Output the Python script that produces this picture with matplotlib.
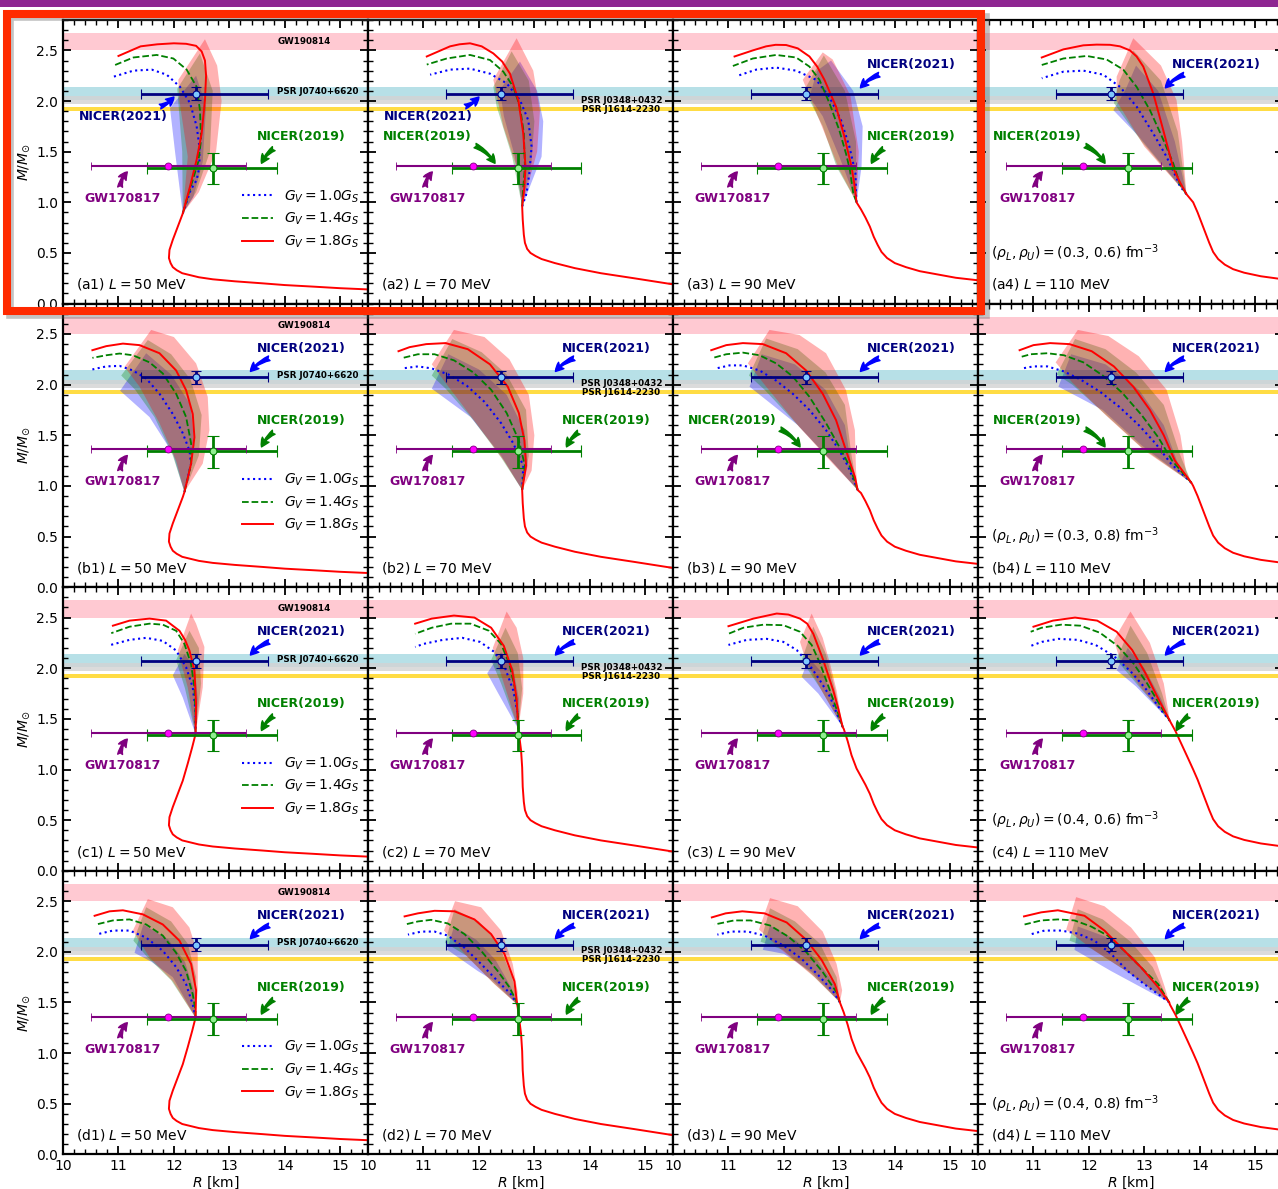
import matplotlib
matplotlib.use('Agg')
import matplotlib.pyplot as plt
from matplotlib.patches import Polygon, Rectangle
from matplotlib.ticker import MultipleLocator, FormatStrFormatter

plt.rcParams['font.family'] = ['DejaVu Sans']
plt.rcParams['mathtext.fontset'] = 'dejavusans'

# ---------------- data ----------------
ROW_KEYS = ['a', 'b', 'c', 'd']
L_VALUES = [50, 70, 90, 110]
RHO_LABELS = ['(0.3, 0.6)', '(0.3, 0.8)', '(0.4, 0.6)', '(0.4, 0.8)']
GV_LABELS = ['$G_V = 1.0G_S$', '$G_V = 1.4G_S$', '$G_V = 1.8G_S$']

# hadronic branches (per column L)
HAD_R_50 = [15.5, 15.0, 14.5, 14.0, 13.6, 13.1, 12.7, 12.45, 12.3, 12.15, 12.05, 11.98, 11.94, 11.91, 11.92, 11.98, 12.07, 12.16, 12.25, 12.33, 12.39, 12.42]
HAD_M_50 = [0.14, 0.152, 0.168, 0.183, 0.20, 0.22, 0.24, 0.26, 0.28, 0.30, 0.33, 0.36, 0.40, 0.45, 0.53, 0.63, 0.76, 0.89, 1.06, 1.22, 1.35, 1.48]
HAD_R_70 = [15.5, 14.8, 14.2, 13.73, 13.37, 13.13, 13.02, 12.93, 12.87, 12.83, 12.81, 12.79, 12.78, 12.76, 12.73, 12.70, 12.66]
HAD_M_70 = [0.19, 0.25, 0.30, 0.35, 0.40, 0.44, 0.47, 0.50, 0.54, 0.60, 0.68, 0.83, 1.02, 1.19, 1.32, 1.45, 1.55]
HAD_R_90 = [15.5, 15.1, 14.8, 14.45, 14.2, 14.0, 13.86, 13.76, 13.69, 13.62, 13.55, 13.47, 13.39, 13.31, 13.22, 13.15, 13.08, 12.98]
HAD_M_90 = [0.23, 0.255, 0.285, 0.32, 0.36, 0.40, 0.45, 0.51, 0.58, 0.66, 0.76, 0.85, 0.93, 1.01, 1.14, 1.28, 1.40, 1.55]
HAD_R_110 = [15.5, 15.1, 14.8, 14.6, 14.45, 14.33, 14.24, 14.17, 14.10, 14.03, 13.96, 13.88, 13.78, 13.67, 13.56, 13.46, 13.40]
HAD_M_110 = [0.24, 0.27, 0.305, 0.34, 0.385, 0.44, 0.51, 0.60, 0.70, 0.80, 0.90, 1.0, 1.12, 1.25, 1.38, 1.48, 1.55]

# observational constraints
GW190814_M = (2.50, 2.67)
J0740_M = (2.01, 2.14)
J0348_M = (1.97, 2.05)
J1614_M = (1.905, 1.945)
NICER21 = (12.39, 2.072, 0.98, 1.30, 0.066, 0.067)   # R, M, R-, R+, M-, M+
NICER19 = (12.71, 1.34, 1.19, 1.14, 0.16, 0.15)
GW170817 = (11.9, 1.36, 1.4, 1.4)

# panel a1
A1_TIP = (12.16, 0.89)
A1_RED = [(12.29, 1.155), (12.41, 1.42), (12.50, 1.68), (12.56, 2.01), (12.58, 2.25), (12.56, 2.40), (12.50, 2.49), (12.40, 2.545), (12.22, 2.565), (12.0, 2.57), (11.7, 2.56), (11.4, 2.54), (11.0, 2.445)]
A1_GREEN = [(12.30, 1.15), (12.44, 1.40), (12.49, 1.62), (12.47, 1.91), (12.41, 2.14), (12.23, 2.31), (11.99, 2.42), (11.69, 2.455), (11.27, 2.43), (10.94, 2.356)]
A1_BLUE = [(12.30, 1.12), (12.41, 1.22), (12.46, 1.35), (12.46, 1.55), (12.41, 1.75), (12.29, 1.98), (12.11, 2.14), (11.87, 2.26), (11.60, 2.31), (11.27, 2.30), (10.91, 2.24)]
A1_BAND_R = [(12.25, 1.45), (12.10, 2.0), (12.08, 2.21), (12.56, 2.61), (12.78, 2.35), (12.86, 2.0), (12.76, 1.5), (12.45, 1.1)]
A1_BAND_G = [(12.15, 1.5), (12.06, 2.12), (12.47, 2.47), (12.70, 2.1), (12.65, 1.5), (12.40, 1.1)]
A1_BAND_B = [(12.02, 1.5), (11.93, 1.93), (12.40, 2.25), (12.58, 1.95), (12.52, 1.4), (12.35, 1.05)]
# panel a2
A2_TIP = (12.78, 0.96)
A2_RED = [(12.82, 1.15), (12.84, 1.35), (12.80, 1.68), (12.71, 2.01), (12.56, 2.27), (12.42, 2.39), (12.26, 2.47), (12.05, 2.54), (11.84, 2.57), (11.65, 2.56), (11.48, 2.54), (11.06, 2.44)]
A2_GREEN = [(12.80, 1.15), (12.83, 1.35), (12.81, 1.68), (12.74, 1.945), (12.62, 2.14), (12.44, 2.29), (12.20, 2.405), (11.84, 2.455), (11.42, 2.42), (11.06, 2.36)]
A2_BLUE = [(12.86, 1.09), (12.91, 1.29), (12.95, 1.55), (12.89, 1.81), (12.74, 2.01), (12.50, 2.175), (12.20, 2.27), (11.84, 2.32), (11.48, 2.31), (11.12, 2.26)]
A2_BAND_R = [(12.68, 1.35), (12.44, 1.75), (12.26, 2.21), (12.68, 2.62), (12.98, 2.30), (13.10, 1.9), (13.05, 1.5)]
A2_BAND_G = [(12.60, 1.45), (12.32, 1.945), (12.26, 2.14), (12.59, 2.49), (12.90, 2.2), (13.0, 1.8), (12.95, 1.4)]
A2_BAND_B = [(12.65, 1.45), (12.45, 1.85), (12.38, 2.11), (12.74, 2.39), (13.05, 2.1), (13.16, 1.8), (13.13, 1.45)]
# panel a3
A3_TIP = (13.31, 1.00)
A3_RED = [(13.27, 1.18), (13.22, 1.35), (13.09, 1.65), (12.94, 1.945), (12.73, 2.21), (12.60, 2.34), (12.46, 2.44), (12.25, 2.52), (12.04, 2.553), (11.85, 2.555), (11.68, 2.54), (11.44, 2.50), (11.11, 2.44)]
A3_GREEN = [(13.25, 1.09), (13.19, 1.32), (13.12, 1.48), (13.0, 1.71), (12.82, 1.98), (12.64, 2.21), (12.46, 2.34), (12.22, 2.43), (11.86, 2.455), (11.44, 2.42), (11.08, 2.346)]
A3_BLUE = [(13.30, 1.09), (13.29, 1.29), (13.18, 1.55), (13.03, 1.81), (12.82, 2.04), (12.58, 2.21), (12.22, 2.30), (11.86, 2.33), (11.50, 2.31), (11.17, 2.25)]
A3_BAND_R = [(13.0, 1.32), (12.64, 1.81), (12.34, 2.21), (12.70, 2.48), (12.88, 2.41), (13.20, 2.05), (13.35, 1.5)]
A3_BAND_G = [(12.95, 1.35), (12.70, 1.75), (12.37, 2.11), (12.72, 2.45), (13.10, 2.1), (13.30, 1.6)]
A3_BAND_B = [(13.0, 1.45), (12.7, 1.85), (12.46, 2.04), (12.60, 2.30), (12.85, 2.40), (13.25, 2.1), (13.42, 1.75), (13.40, 1.35)]
# panel a4
A4_TIP = (13.76, 1.08)
A4_RED = [(13.64, 1.20), (13.52, 1.34), (13.34, 1.714), (13.16, 2.076), (12.98, 2.34), (12.86, 2.44), (12.74, 2.50), (12.56, 2.54), (12.38, 2.555), (12.14, 2.557), (11.90, 2.55), (11.54, 2.51), (11.15, 2.43)]
A4_GREEN = [(13.64, 1.18), (13.52, 1.385), (13.34, 1.62), (13.10, 1.91), (12.86, 2.14), (12.62, 2.31), (12.32, 2.41), (11.96, 2.445), (11.54, 2.42), (11.15, 2.356)]
A4_BLUE = [(13.64, 1.16), (13.58, 1.24), (13.40, 1.45), (13.16, 1.68), (12.86, 1.945), (12.56, 2.14), (12.26, 2.26), (11.90, 2.30), (11.54, 2.29), (11.15, 2.225)]
A4_BAND_R = [(13.0, 1.55), (12.50, 2.0), (12.50, 2.24), (12.80, 2.62), (13.30, 2.35), (13.58, 2.01), (13.68, 1.6)]
A4_BAND_G = [(12.95, 1.6), (12.45, 1.98), (12.55, 2.2), (12.80, 2.5), (13.30, 2.2), (13.60, 1.7)]
A4_BAND_B = [(12.90, 1.65), (12.44, 1.91), (12.65, 2.1), (12.85, 2.35), (13.25, 2.1), (13.55, 1.6)]
# panel b1
B1_TIP = (12.19, 0.94)
B1_RED = [(12.31, 1.22), (12.37, 1.48), (12.34, 1.71), (12.22, 1.945), (12.04, 2.14), (11.74, 2.31), (11.38, 2.39), (11.08, 2.405), (10.78, 2.38), (10.53, 2.34)]
B1_GREEN = [(12.31, 1.22), (12.31, 1.42), (12.22, 1.68), (12.04, 1.91), (11.80, 2.11), (11.56, 2.22), (11.26, 2.29), (11.02, 2.307), (10.78, 2.29), (10.53, 2.264)]
B1_BLUE = [(12.31, 1.22), (12.28, 1.35), (12.16, 1.52), (11.98, 1.71), (11.74, 1.91), (11.50, 2.06), (11.26, 2.14), (11.02, 2.185), (10.78, 2.18), (10.53, 2.15)]
B1_BAND_R = [(12.04, 1.25), (11.74, 1.62), (11.38, 1.98), (11.11, 2.175), (11.59, 2.54), (12.0, 2.47), (12.40, 2.21), (12.61, 1.88), (12.64, 1.55), (12.52, 1.22)]
B1_BAND_G = [(11.98, 1.3), (11.65, 1.68), (11.30, 1.95), (11.05, 2.09), (11.53, 2.44), (11.95, 2.3), (12.30, 2.05), (12.50, 1.7), (12.45, 1.3)]
B1_BAND_B = [(11.98, 1.32), (11.56, 1.68), (11.03, 1.94), (11.50, 2.31), (11.95, 2.1), (12.30, 1.8), (12.37, 1.4)]
# panel b2
B2_TIP = (12.78, 0.96)
B2_RED = [(12.85, 1.2), (12.82, 1.45), (12.72, 1.72), (12.52, 1.98), (12.20, 2.2), (11.80, 2.35), (11.40, 2.41), (11.05, 2.40), (10.75, 2.37), (10.55, 2.33)]
B2_GREEN = [(12.83, 1.2), (12.72, 1.45), (12.50, 1.72), (12.22, 1.95), (11.90, 2.12), (11.55, 2.24), (11.20, 2.30), (10.90, 2.30), (10.60, 2.26)]
B2_BLUE = [(12.80, 1.2), (12.62, 1.42), (12.40, 1.62), (12.10, 1.83), (11.78, 1.99), (11.45, 2.1), (11.15, 2.16), (10.90, 2.18), (10.62, 2.16)]
B2_BAND_R = [(12.45, 1.25), (11.95, 1.62), (11.45, 1.98), (11.15, 2.2), (11.55, 2.54), (12.10, 2.47), (12.55, 2.25), (12.90, 1.9), (13.0, 1.5), (12.95, 1.15)]
B2_BAND_G = [(12.40, 1.28), (11.90, 1.65), (11.40, 1.96), (11.15, 2.09), (11.52, 2.45), (12.05, 2.32), (12.50, 2.1), (12.85, 1.75), (12.90, 1.3)]
B2_BAND_B = [(12.40, 1.3), (11.85, 1.68), (11.15, 1.96), (11.45, 2.30), (12.0, 2.15), (12.50, 1.9), (12.82, 1.55), (12.88, 1.2)]
# panel b3
B3_TIP = (13.33, 0.96)
B3_RED = [(13.28, 1.09), (13.12, 1.35), (12.94, 1.65), (12.70, 1.91), (12.40, 2.14), (12.04, 2.31), (11.62, 2.40), (11.26, 2.41), (10.96, 2.39), (10.69, 2.34)]
B3_GREEN = [(13.19, 1.19), (13.0, 1.385), (12.76, 1.62), (12.46, 1.88), (12.16, 2.08), (11.86, 2.21), (11.56, 2.29), (11.26, 2.316), (10.96, 2.30), (10.72, 2.264)]
B3_BLUE = [(13.16, 1.19), (13.0, 1.35), (12.76, 1.55), (12.46, 1.75), (12.16, 1.91), (11.86, 2.04), (11.56, 2.14), (11.26, 2.19), (11.02, 2.19), (10.78, 2.16)]
B3_BAND_R = [(12.88, 1.22), (12.28, 1.58), (11.68, 1.98), (11.35, 2.21), (11.74, 2.54), (12.28, 2.49), (12.76, 2.31), (13.12, 1.945), (13.28, 1.55), (13.30, 1.16)]
B3_BAND_G = [(12.85, 1.25), (12.25, 1.6), (11.65, 1.95), (11.37, 2.09), (11.68, 2.455), (12.25, 2.35), (12.75, 2.12), (13.1, 1.8), (13.22, 1.3)]
B3_BAND_B = [(12.85, 1.25), (12.25, 1.6), (11.38, 1.98), (11.60, 2.30), (12.2, 2.2), (12.75, 1.95), (13.1, 1.6), (13.2, 1.25)]
# panel b4
B4_TIP = (13.85, 1.03)
B4_RED = [(13.55, 1.25), (13.35, 1.5), (13.10, 1.75), (12.80, 1.98), (12.45, 2.18), (12.05, 2.33), (11.65, 2.40), (11.30, 2.41), (11.0, 2.39), (10.75, 2.34)]
B4_GREEN = [(13.50, 1.25), (13.25, 1.48), (12.95, 1.70), (12.60, 1.92), (12.25, 2.09), (11.90, 2.22), (11.55, 2.29), (11.25, 2.31), (10.95, 2.30), (10.75, 2.27)]
B4_BLUE = [(13.48, 1.22), (13.20, 1.42), (12.90, 1.60), (12.55, 1.78), (12.20, 1.93), (11.85, 2.05), (11.55, 2.13), (11.25, 2.18), (11.0, 2.18), (10.8, 2.16)]
B4_BAND_R = [(13.0, 1.35), (12.30, 1.70), (11.70, 2.02), (11.40, 2.22), (11.80, 2.54), (12.35, 2.48), (12.90, 2.28), (13.40, 1.95), (13.65, 1.5), (13.75, 1.15)]
B4_BAND_G = [(12.95, 1.38), (12.25, 1.73), (11.70, 2.0), (11.42, 2.10), (11.75, 2.45), (12.3, 2.35), (12.85, 2.12), (13.35, 1.8), (13.65, 1.3)]
B4_BAND_B = [(12.95, 1.4), (12.25, 1.75), (11.45, 1.98), (11.68, 2.30), (12.3, 2.2), (12.9, 1.95), (13.35, 1.6), (13.62, 1.2)]
# panel c1
C1_TIP = (12.39, 1.35)
C1_RED = [(12.40, 1.65), (12.37, 1.98), (12.28, 2.175), (12.20, 2.28), (12.10, 2.37), (11.86, 2.47), (11.56, 2.49), (11.20, 2.47), (10.90, 2.42)]
C1_GREEN = [(12.39, 1.55), (12.37, 1.81), (12.31, 2.04), (12.19, 2.24), (12.04, 2.37), (11.80, 2.43), (11.56, 2.44), (11.20, 2.41), (10.87, 2.346)]
C1_BLUE = [(12.39, 1.58), (12.34, 1.81), (12.22, 2.01), (12.04, 2.175), (11.80, 2.27), (11.50, 2.30), (11.20, 2.28), (10.86, 2.23)]
C1_BAND_R = [(12.25, 1.81), (12.07, 2.175), (12.31, 2.54), (12.40, 2.44), (12.55, 2.21), (12.52, 1.81)]
C1_BAND_G = [(12.20, 1.80), (12.04, 2.08), (12.28, 2.37), (12.45, 2.2), (12.49, 1.85)]
C1_BAND_B = [(12.16, 1.71), (11.98, 1.93), (12.19, 2.14), (12.38, 2.0), (12.43, 1.7)]
# panel c2
C2_TIP = (12.71, 1.40)
C2_RED = [(12.68, 1.7), (12.60, 1.98), (12.45, 2.22), (12.22, 2.40), (11.92, 2.50), (11.55, 2.52), (11.15, 2.49), (10.85, 2.44)]
C2_GREEN = [(12.70, 1.55), (12.65, 1.8), (12.55, 2.04), (12.40, 2.24), (12.18, 2.37), (11.85, 2.44), (11.50, 2.44), (11.15, 2.40), (10.85, 2.34)]
C2_BLUE = [(12.70, 1.55), (12.62, 1.78), (12.48, 1.99), (12.28, 2.16), (12.02, 2.26), (11.70, 2.30), (11.35, 2.28), (11.0, 2.24), (10.85, 2.21)]
C2_BAND_R = [(12.45, 1.85), (12.25, 2.2), (12.50, 2.56), (12.68, 2.4), (12.80, 2.1), (12.80, 1.75)]
C2_BAND_G = [(12.40, 1.85), (12.22, 2.08), (12.48, 2.4), (12.70, 2.15), (12.78, 1.8)]
C2_BAND_B = [(12.35, 1.75), (12.15, 1.95), (12.40, 2.16), (12.62, 2.0), (12.72, 1.7)]
# panel c3
C3_TIP = (13.06, 1.42)
C3_RED = [(12.98, 1.60), (12.89, 1.78), (12.71, 2.08), (12.53, 2.34), (12.42, 2.44), (12.29, 2.49), (12.08, 2.53), (11.87, 2.54), (11.45, 2.49), (11.0, 2.415)]
C3_GREEN = [(12.98, 1.55), (12.83, 1.78), (12.65, 2.05), (12.50, 2.23), (12.29, 2.36), (11.99, 2.425), (11.63, 2.43), (11.27, 2.40), (11.0, 2.34)]
C3_BLUE = [(12.98, 1.52), (12.83, 1.72), (12.65, 1.88), (12.44, 2.05), (12.23, 2.18), (11.99, 2.26), (11.69, 2.29), (11.33, 2.28), (11.0, 2.23)]
C3_BAND_R = [(12.71, 1.75), (12.41, 2.05), (12.29, 2.26), (12.50, 2.54), (12.70, 2.3), (12.83, 2.05), (12.95, 1.78)]
C3_BAND_G = [(12.68, 1.78), (12.32, 2.08), (12.53, 2.41), (12.75, 2.15), (12.92, 1.8)]
C3_BAND_B = [(12.62, 1.75), (12.32, 1.915), (12.45, 2.1), (12.70, 1.95), (12.90, 1.7)]
# panel c4
C4_TIP = (13.46, 1.48)
C4_RED = [(13.25, 1.70), (13.02, 1.95), (12.78, 2.18), (12.50, 2.36), (12.15, 2.47), (11.75, 2.50), (11.35, 2.47), (11.0, 2.41)]
C4_GREEN = [(13.30, 1.62), (13.05, 1.85), (12.80, 2.05), (12.52, 2.22), (12.20, 2.35), (11.85, 2.42), (11.50, 2.43), (11.15, 2.40), (10.95, 2.36)]
C4_BLUE = [(13.28, 1.60), (13.02, 1.80), (12.75, 1.97), (12.45, 2.12), (12.12, 2.23), (11.80, 2.28), (11.45, 2.29), (11.15, 2.26), (10.95, 2.22)]
C4_BAND_R = [(12.95, 1.8), (12.55, 2.1), (12.45, 2.28), (12.75, 2.56), (13.10, 2.25), (13.35, 1.85)]
C4_BAND_G = [(12.90, 1.82), (12.50, 2.08), (12.75, 2.42), (13.05, 2.15), (13.32, 1.75)]
C4_BAND_B = [(12.85, 1.82), (12.50, 1.98), (12.70, 2.2), (13.0, 2.0), (13.30, 1.7)]
# panel d1
D1_TIP = (12.39, 1.35)
D1_RED = [(12.40, 1.62), (12.31, 1.88), (12.10, 2.11), (11.80, 2.27), (11.44, 2.37), (11.08, 2.41), (10.84, 2.40), (10.57, 2.356)]
D1_GREEN = [(12.39, 1.42), (12.34, 1.58), (12.22, 1.81), (12.04, 1.99), (11.80, 2.16), (11.50, 2.27), (11.20, 2.32), (10.90, 2.31), (10.60, 2.27)]
D1_BLUE = [(12.34, 1.48), (12.22, 1.68), (12.04, 1.85), (11.80, 2.01), (11.50, 2.14), (11.20, 2.21), (10.90, 2.21), (10.63, 2.175)]
D1_BAND_R = [(11.98, 1.71), (11.56, 1.945), (11.26, 2.21), (11.53, 2.52), (11.98, 2.44), (12.28, 2.24), (12.43, 1.98), (12.43, 1.62)]
D1_BAND_G = [(11.95, 1.72), (11.50, 1.96), (11.27, 2.11), (11.50, 2.44), (11.95, 2.3), (12.25, 2.08), (12.40, 1.75)]
D1_BAND_B = [(11.98, 1.75), (11.60, 1.90), (11.29, 1.99), (11.45, 2.27), (11.90, 2.12), (12.20, 1.9), (12.37, 1.6)]
# panel d2
D2_TIP = (12.69, 1.48)
D2_RED = [(12.64, 1.71), (12.46, 1.98), (12.22, 2.175), (11.92, 2.32), (11.56, 2.40), (11.20, 2.405), (10.90, 2.38), (10.66, 2.35)]
D2_GREEN = [(12.67, 1.52), (12.55, 1.65), (12.34, 1.81), (12.04, 2.01), (11.74, 2.175), (11.44, 2.28), (11.14, 2.316), (10.90, 2.30), (10.67, 2.27)]
D2_BLUE = [(12.58, 1.58), (12.34, 1.71), (12.04, 1.88), (11.74, 2.04), (11.44, 2.16), (11.20, 2.20), (10.96, 2.20), (10.72, 2.17)]
D2_BAND_R = [(12.28, 1.68), (11.80, 1.945), (11.37, 2.21), (11.57, 2.50), (12.04, 2.44), (12.40, 2.21), (12.61, 1.88), (12.70, 1.6)]
D2_BAND_G = [(12.25, 1.70), (11.78, 1.96), (11.39, 2.09), (11.56, 2.42), (12.0, 2.3), (12.35, 2.08), (12.60, 1.75)]
D2_BAND_B = [(12.25, 1.72), (11.98, 1.81), (11.43, 2.02), (11.55, 2.25), (11.95, 2.12), (12.30, 1.92), (12.58, 1.65)]
# panel d3
D3_TIP = (13.01, 1.50)
D3_RED = [(12.92, 1.68), (12.68, 1.92), (12.40, 2.12), (12.05, 2.29), (11.65, 2.38), (11.25, 2.40), (10.95, 2.38), (10.70, 2.34)]
D3_GREEN = [(12.95, 1.6), (12.70, 1.8), (12.40, 2.0), (12.08, 2.15), (11.75, 2.26), (11.40, 2.31), (11.10, 2.31), (10.75, 2.27)]
D3_BLUE = [(12.90, 1.6), (12.62, 1.77), (12.32, 1.93), (12.0, 2.06), (11.65, 2.16), (11.35, 2.20), (11.05, 2.20), (10.80, 2.17)]
D3_BAND_R = [(12.55, 1.75), (12.0, 2.0), (11.55, 2.22), (11.75, 2.53), (12.25, 2.45), (12.70, 2.2), (12.95, 1.88), (13.05, 1.62)]
D3_BAND_G = [(12.50, 1.78), (11.98, 2.02), (11.58, 2.10), (11.75, 2.43), (12.2, 2.3), (12.65, 2.08), (12.95, 1.75)]
D3_BAND_B = [(12.50, 1.80), (12.0, 1.98), (11.62, 2.02), (11.75, 2.26), (12.2, 2.12), (12.6, 1.92), (12.95, 1.65)]
# panel d4
D4_TIP = (13.45, 1.50)
D4_RED = [(13.25, 1.65), (12.94, 1.846), (12.64, 2.01), (12.28, 2.21), (11.92, 2.356), (11.44, 2.41), (11.14, 2.39), (10.83, 2.35)]
D4_GREEN = [(13.25, 1.68), (12.94, 1.846), (12.64, 2.01), (12.34, 2.16), (12.04, 2.25), (11.74, 2.31), (11.44, 2.32), (11.14, 2.31), (10.84, 2.27)]
D4_BLUE = [(13.28, 1.57), (13.0, 1.68), (12.70, 1.81), (12.40, 1.98), (12.10, 2.11), (11.80, 2.18), (11.50, 2.21), (11.20, 2.21), (10.93, 2.17)]
D4_BAND_R = [(12.76, 1.78), (12.10, 2.01), (11.59, 2.22), (11.77, 2.54), (12.28, 2.45), (12.76, 2.24), (13.19, 1.945), (13.37, 1.65)]
D4_BAND_G = [(12.70, 1.80), (12.05, 2.03), (11.65, 2.11), (11.80, 2.42), (12.25, 2.32), (12.75, 2.1), (13.15, 1.85)]
D4_BAND_B = [(12.40, 1.81), (11.74, 2.02), (11.80, 2.25), (12.3, 2.15), (12.8, 1.95), (13.2, 1.7)]

# annotation placement per panel (row-major)
N21_SIDE = [['left', 'left', 'right', 'right'], ['right'] * 4, ['right'] * 4, ['right'] * 4]
N19_SIDE = [['right', 'left', 'right', 'left'], ['right', 'right', 'left', 'left'], ['right'] * 4, ['right'] * 4]

# ---------------- assemble tables ----------------
HAD = [(HAD_R_50, HAD_M_50), (HAD_R_70, HAD_M_70), (HAD_R_90, HAD_M_90), (HAD_R_110, HAD_M_110)]
PANELS = {
    'a1': (A1_TIP, A1_RED, A1_GREEN, A1_BLUE, A1_BAND_R, A1_BAND_G, A1_BAND_B),
    'a2': (A2_TIP, A2_RED, A2_GREEN, A2_BLUE, A2_BAND_R, A2_BAND_G, A2_BAND_B),
    'a3': (A3_TIP, A3_RED, A3_GREEN, A3_BLUE, A3_BAND_R, A3_BAND_G, A3_BAND_B),
    'a4': (A4_TIP, A4_RED, A4_GREEN, A4_BLUE, A4_BAND_R, A4_BAND_G, A4_BAND_B),
    'b1': (B1_TIP, B1_RED, B1_GREEN, B1_BLUE, B1_BAND_R, B1_BAND_G, B1_BAND_B),
    'b2': (B2_TIP, B2_RED, B2_GREEN, B2_BLUE, B2_BAND_R, B2_BAND_G, B2_BAND_B),
    'b3': (B3_TIP, B3_RED, B3_GREEN, B3_BLUE, B3_BAND_R, B3_BAND_G, B3_BAND_B),
    'b4': (B4_TIP, B4_RED, B4_GREEN, B4_BLUE, B4_BAND_R, B4_BAND_G, B4_BAND_B),
    'c1': (C1_TIP, C1_RED, C1_GREEN, C1_BLUE, C1_BAND_R, C1_BAND_G, C1_BAND_B),
    'c2': (C2_TIP, C2_RED, C2_GREEN, C2_BLUE, C2_BAND_R, C2_BAND_G, C2_BAND_B),
    'c3': (C3_TIP, C3_RED, C3_GREEN, C3_BLUE, C3_BAND_R, C3_BAND_G, C3_BAND_B),
    'c4': (C4_TIP, C4_RED, C4_GREEN, C4_BLUE, C4_BAND_R, C4_BAND_G, C4_BAND_B),
    'd1': (D1_TIP, D1_RED, D1_GREEN, D1_BLUE, D1_BAND_R, D1_BAND_G, D1_BAND_B),
    'd2': (D2_TIP, D2_RED, D2_GREEN, D2_BLUE, D2_BAND_R, D2_BAND_G, D2_BAND_B),
    'd3': (D3_TIP, D3_RED, D3_GREEN, D3_BLUE, D3_BAND_R, D3_BAND_G, D3_BAND_B),
    'd4': (D4_TIP, D4_RED, D4_GREEN, D4_BLUE, D4_BAND_R, D4_BAND_G, D4_BAND_B),
}

# ---------------- figure ----------------
W, H = 1278, 1189
fig = plt.figure(figsize=(W / 100, H / 100), dpi=100)
X0, Y0, PW, PH = 63, 20, 305, 283.6

C_NAVY = '#00007f'
C_GREEN = '#008000'
C_PURPLE = '#800080'


def xy(pts):
    return [p[0] for p in pts], [p[1] for p in pts]


for r in range(4):
    for c in range(4):
        key = f'{ROW_KEYS[r]}{c + 1}'
        ax = fig.add_axes([(X0 + PW * c) / W, 1 - (Y0 + PH * (r + 1)) / H, PW / W, PH / H])
        ax.set_xlim(10, 15.5)
        ax.set_ylim(0, 2.8)
        tip, red, green, blue, b_r, b_g, b_b = PANELS[key]
        hr, hm = HAD[c]

        # horizontal constraint bands
        ax.axhspan(*GW190814_M, color='pink', alpha=0.85, lw=0, zorder=0)
        ax.axhspan(*J0740_M, color='#b0dde5', alpha=0.9, lw=0, zorder=0)
        ax.axhspan(*J0348_M, color='#d3d3d3', alpha=0.8, lw=0, zorder=0)
        ax.axhspan(*J1614_M, color='#ffd92f', alpha=0.9, lw=0, zorder=0)

        # uncertainty regions
        for band, col in [(b_b, 'blue'), (b_g, 'green'), (b_r, 'red')]:
            ax.add_patch(Polygon([tip] + band, closed=True, fc=col, alpha=0.3, lw=0, zorder=1))

        # curves
        rr = [R for R, M in zip(hr, hm) if M < tip[1]] + [tip[0]] + xy(red)[0]
        mm = [M for M in hm if M < tip[1]] + [tip[1]] + xy(red)[1]
        gx, gy = xy([tip] + green)
        bx, by = xy([tip] + blue)
        lb, = ax.plot(bx, by, color='blue', ls=':', lw=1.5, zorder=3)
        lg, = ax.plot(gx, gy, color='green', ls='--', lw=1.3, zorder=3)
        lr, = ax.plot(rr, mm, color='red', ls='-', lw=1.4, zorder=3, solid_joinstyle='round')

        # measurements
        R, M, rm, rp, mmn, mpl = NICER21
        ax.errorbar(R, M, xerr=[[rm], [rp]], yerr=[[mmn], [mpl]], fmt='o', color=C_NAVY, ms=5,
                    mfc='#7ec8ff', mec=C_NAVY, mew=0.8, elinewidth=2, capsize=3.5, capthick=2, zorder=4)
        R, M, rm, rp, mmn, mpl = NICER19
        ax.errorbar(R, M, xerr=[[rm], [rp]], yerr=[[mmn], [mpl]], fmt='o', color=C_GREEN, ms=5,
                    mfc='#90ee90', mec=C_GREEN, mew=0.8, elinewidth=2, capsize=4, capthick=2, zorder=4)
        R, M, rm, rp = GW170817
        ax.errorbar(R, M, xerr=[[rm], [rp]], fmt='o', color=C_PURPLE, ms=5, mfc='magenta',
                    mec=C_PURPLE, mew=0.6, elinewidth=1.5, capsize=3, capthick=1.5, zorder=4)

        # annotations
        arr = 'fancy,head_length=0.6,head_width=0.6,tail_width=0.35'
        if N21_SIDE[r][c] == 'right':
            tpos, tail, head, rad = (14.30, 2.36), (13.72, 2.26), (13.38, 2.13), 0.15
        else:
            tpos, tail, head, rad = (11.09, 1.846), (11.75, 1.945), (12.0, 2.04), 0.15
        ax.text(*tpos, 'NICER(2021)', color=C_NAVY, fontsize=9, fontweight='bold', ha='center', va='center', zorder=6)
        ax.annotate('', xy=head, xytext=tail, zorder=6,
                    arrowprops=dict(arrowstyle=arr, color='blue', connectionstyle=f'arc3,rad={rad}', shrinkA=0, shrinkB=0))
        if N19_SIDE[r][c] == 'right':
            tpos, tail, head, rad = (14.30, 1.65), (13.80, 1.53), (13.58, 1.385), 0.15
        else:
            tpos, tail, head, rad = (11.06, 1.65), (11.93, 1.56), (12.29, 1.385), -0.15
        ax.text(*tpos, 'NICER(2019)', color=C_GREEN, fontsize=9, fontweight='bold', ha='center', va='center', zorder=6)
        ax.annotate('', xy=head, xytext=tail, zorder=6,
                    arrowprops=dict(arrowstyle=arr, color=C_GREEN, connectionstyle=f'arc3,rad={rad}', shrinkA=0, shrinkB=0))
        ax.text(11.08, 1.04, 'GW170817', color=C_PURPLE, fontsize=9, fontweight='bold', ha='center', va='center', zorder=6)
        ax.annotate('', xy=(11.16, 1.30), xytext=(11.03, 1.15), zorder=6,
                    arrowprops=dict(arrowstyle=arr, color=C_PURPLE, connectionstyle='arc3,rad=-0.2', shrinkA=0, shrinkB=0))

        # small labels for constraint bands
        if c == 0:
            ax.text(14.35, 2.585, 'GW190814', fontsize=6.3, fontweight='bold', ha='center', va='center', zorder=6)
            ax.text(14.60, 2.09, 'PSR J0740+6620', fontsize=6.3, fontweight='bold', ha='center', va='center', zorder=6)
            ax.legend([lb, lg, lr], GV_LABELS, loc='lower right', bbox_to_anchor=(1.0, 0.16), frameon=False,
                      fontsize=10, handlelength=2.2, labelspacing=0.45, borderaxespad=0.2)
        if c == 1:
            ax.text(14.57, 2.01, 'PSR J0348+0432', fontsize=6.3, fontweight='bold', ha='center', va='center', zorder=6)
            ax.text(14.57, 1.92, 'PSR J1614-2230', fontsize=6.3, fontweight='bold', ha='center', va='center', zorder=6)

        ax.text(10.24, 0.19, f'({key}) $L = {L_VALUES[c]}$ MeV', fontsize=10, ha='left', va='center', zorder=6)
        if c == 3:
            ax.text(10.24, 0.50, r'$(\rho_L, \rho_U) = $' + RHO_LABELS[r] + r' fm$^{-3}$', fontsize=10,
                    ha='left', va='center', zorder=6)

        # axes styling
        ax.xaxis.set_major_locator(MultipleLocator(1))
        ax.xaxis.set_minor_locator(MultipleLocator(0.2))
        ax.yaxis.set_major_locator(MultipleLocator(0.5))
        ax.yaxis.set_minor_locator(MultipleLocator(0.1))
        ax.yaxis.set_major_formatter(FormatStrFormatter('%.1f'))
        ax.tick_params(which='both', direction='in', top=True, right=True, labelsize=10)
        ax.tick_params(which='major', length=6, width=1.3)
        ax.tick_params(which='minor', length=3.5, width=1.0)
        for s in ax.spines.values():
            s.set_linewidth(1.6)
        if c != 0:
            ax.tick_params(labelleft=False)
        else:
            ax.set_ylabel(r'$M/M_{\odot}$', fontsize=10, labelpad=3)
        if r != 3:
            ax.tick_params(labelbottom=False)
        else:
            ax.set_xlabel(r'$R$ [km]', fontsize=10, labelpad=1)

# decorations: top purple bar and highlighted frame
fig.add_artist(Rectangle((0, 1 - 7 / H), 1, 7 / H, transform=fig.transFigure, fc='#8e2591', ec='none', zorder=10))
fig.add_artist(Rectangle((10 / W, 1 - 315 / H), 976 / W, 298 / H, transform=fig.transFigure,
                         fc='none', ec='#555555', lw=5.5, alpha=0.35, zorder=10))
fig.add_artist(Rectangle((7 / W, 1 - 311 / H), 974 / W, 297 / H, transform=fig.transFigure,
                         fc='none', ec='#ff2a00', lw=5.8, zorder=11))

fig.savefig('out.png', dpi=100)
